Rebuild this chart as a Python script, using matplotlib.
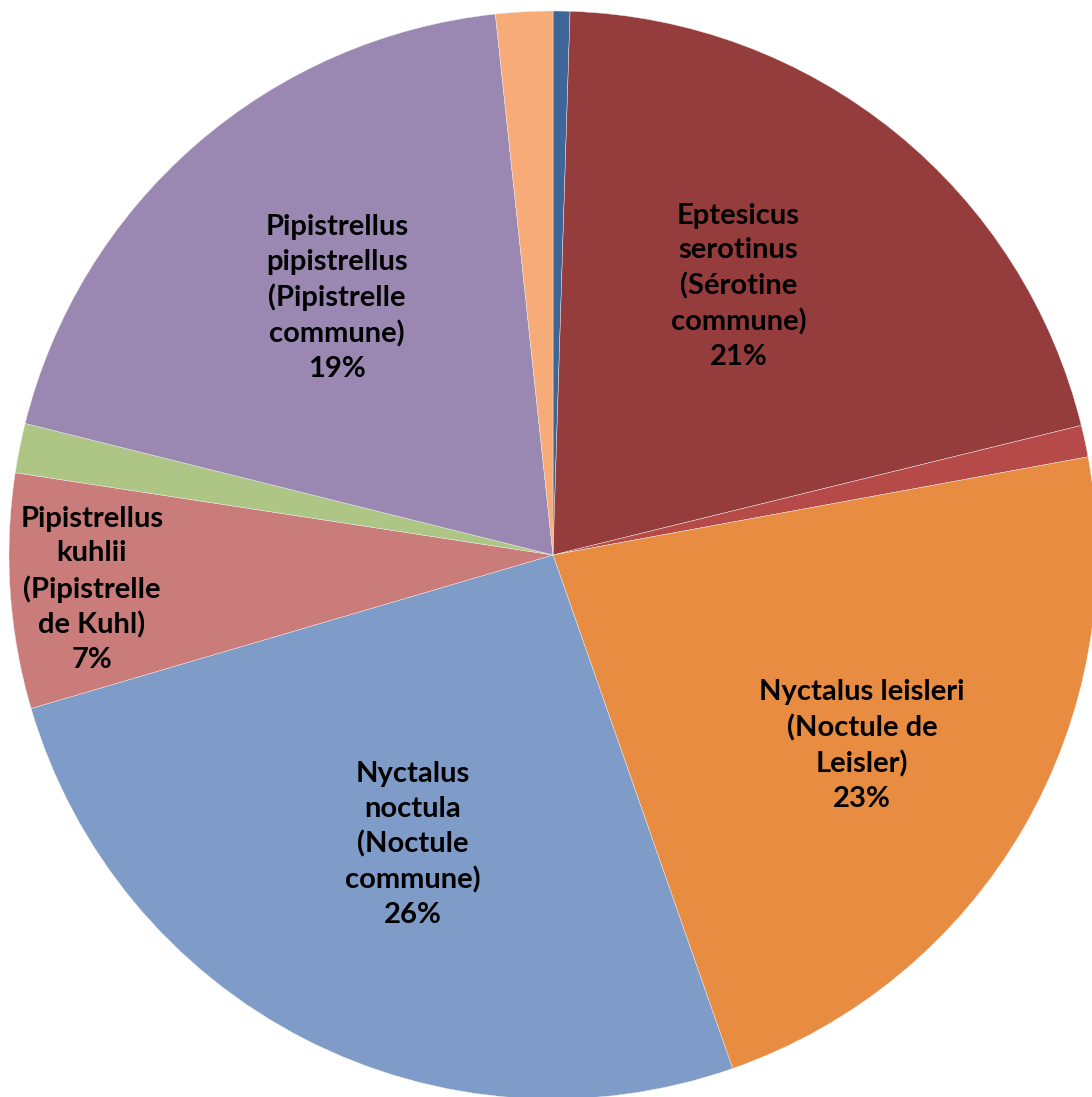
import numpy as np
import matplotlib
matplotlib.use("Agg")
import matplotlib.pyplot as plt

# share of bat contacts per species (%), clockwise from 12 o'clock
species = ["", "Eptesicus serotinus", "", "Nyctalus leisleri", "Nyctalus noctula",
           "Pipistrellus kuhlii", "", "Pipistrellus pipistrellus", ""]
labels = ["", "Eptesicus\nserotinus\n(Sérotine\ncommune)", "",
          "Nyctalus leisleri\n(Noctule de\nLeisler)",
          "Nyctalus\nnoctula\n(Noctule\ncommune)",
          "Pipistrellus\nkuhlii\n(Pipistrelle\nde Kuhl)", "",
          "Pipistrellus\npipistrellus\n(Pipistrelle\ncommune)", ""]
shares = [0.5, 20.67, 0.94, 22.53, 25.8, 6.97, 1.47, 19.42, 1.69]
colors = ["#3E6699", "#953D3C", "#B54A48", "#E88C42", "#7F9BC8",
          "#C97C7A", "#ADC585", "#9A88B3", "#F7AB78"]

# label placement: fraction of radius, angular nudge (deg, clockwise)
label_r = [0, 0.60, 0, 0.667, 0.592, 0.85, 0, 0.617, 0]
label_dang = [0, -4.4, 0, 1.5, -1.3, -0.4, 0, 1.0, 0]

W, H = 1092, 1097
fig = plt.figure(figsize=(W / 100, H / 100), dpi=100)
ax = fig.add_axes([0, 0, 1, 1])

cx, cy, R = 553, H - 555, 544
wedges, _ = ax.pie(shares, colors=colors, startangle=90, counterclock=False,
                   radius=R, center=(cx, cy), frame=True,
                   wedgeprops=dict(linewidth=0.3, edgecolor="#f0f0f0"))
ax.set_xlim(0, W)
ax.set_ylim(0, H)
ax.set_aspect("equal")
ax.axis("off")

total = sum(shares)
for w, lab, s, fr, da in zip(wedges, labels, shares, label_r, label_dang):
    if not lab:
        continue
    mid = np.deg2rad((w.theta1 + w.theta2) / 2 - da)
    x = cx + fr * R * np.cos(mid)
    y = cy + fr * R * np.sin(mid)
    ax.text(x, y, "%s\n%d%%" % (lab, round(s / total * 100)), ha="center", va="center",
            fontsize=21, fontweight="bold", family="Lato", linespacing=1.4,
            color="black")

fig.savefig("out.png", dpi=100)
